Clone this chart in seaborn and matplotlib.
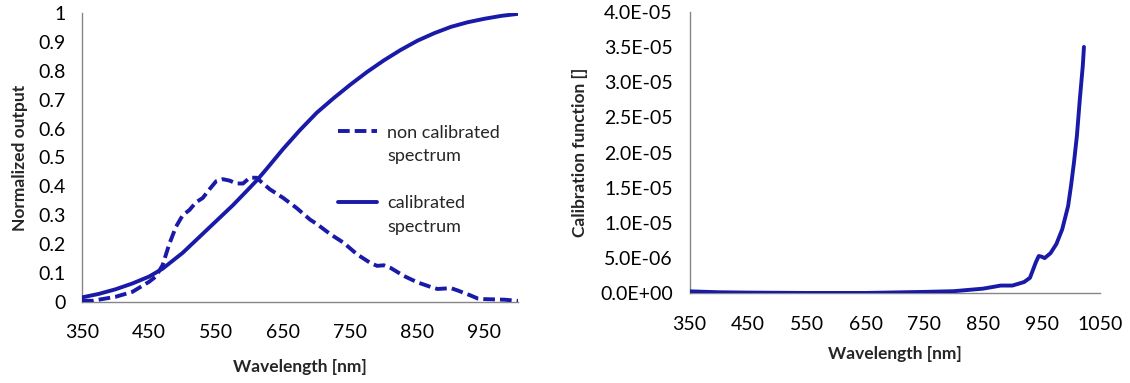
import matplotlib
matplotlib.use("Agg")
import matplotlib.pyplot as plt
from matplotlib.lines import Line2D
from matplotlib.ticker import FuncFormatter, MultipleLocator
import seaborn as sns
import pandas as pd

# ---- data ----
wl_cal = [350, 375, 400, 425, 450, 470, 500, 525, 550, 575, 600, 611, 625, 650, 675, 700,
          725, 750, 775, 800, 825, 850, 875, 900, 925, 950, 975, 1000]
calibrated = [0.016, 0.028, 0.044, 0.064, 0.088, 0.115, 0.17, 0.225, 0.28, 0.335, 0.395,
              0.422, 0.46, 0.53, 0.595, 0.655, 0.705, 0.752, 0.796, 0.836, 0.872, 0.904,
              0.93, 0.952, 0.968, 0.98, 0.99, 0.997]

wl_raw = [350, 365, 380, 400, 425, 450, 460, 470, 480, 490, 500, 510, 520, 530, 540,
          550, 560, 570, 580, 590, 600, 610, 620, 630, 640, 650, 670, 690, 700, 720, 740,
          760, 780, 790, 800, 810, 830, 850, 870, 880, 900, 910, 930, 940, 950, 980, 1000]
non_calibrated = [0.005, 0.004, 0.01, 0.018, 0.035, 0.07, 0.088, 0.127, 0.20, 0.26,
                  0.30, 0.318, 0.345, 0.36, 0.39, 0.418, 0.425, 0.42, 0.41, 0.41, 0.43,
                  0.43, 0.41, 0.39, 0.375, 0.36, 0.325, 0.285, 0.27, 0.235, 0.205, 0.165,
                  0.135, 0.125, 0.127, 0.118, 0.09, 0.068, 0.052, 0.045, 0.048, 0.04,
                  0.022, 0.012, 0.01, 0.008, 0.004]

wl_fn = [350, 400, 450, 550, 650, 750, 800, 850, 870, 880, 900, 920, 930, 940, 945, 950,
         955, 965, 975, 985, 995, 1000, 1005, 1010, 1015, 1020, 1022]
cal_function = [2.8e-7, 1.5e-7, 1.0e-7, 0.5e-7, 0.5e-7, 2.0e-7, 3.0e-7, 6.6e-7, 9.5e-7,
                1.1e-6, 1.1e-6, 1.6e-6, 2.2e-6, 4.4e-6, 5.3e-6, 5.2e-6, 5.0e-6, 5.7e-6,
                7.0e-6, 9.1e-6, 1.24e-5, 1.53e-5, 1.86e-5, 2.24e-5, 2.76e-5, 3.23e-5, 3.5e-5]

x_ticks = [350, 450, 550, 650, 750, 850, 950]
x_ticks_r = [350, 450, 550, 650, 750, 850, 950, 1050]

# ---- style ----
sns.set_style("white")
plt.rcParams['font.family'] = ['Lato', 'DejaVu Sans']
COLOR = "#1a1aa8"
SPINE = "#868686"
LW = 2.8
DASH = (0, (3, 1.3))

fig = plt.figure(figsize=(11.3, 3.83), dpi=100)
ax1 = fig.add_axes([0.0726, 0.2115, 0.3858, 0.7546])
ax2 = fig.add_axes([0.6102, 0.2342, 0.3636, 0.7352])

df_raw = pd.DataFrame({"wl": wl_raw, "v": non_calibrated})
df_cal = pd.DataFrame({"wl": wl_cal, "v": calibrated})
df_fn = pd.DataFrame({"wl": wl_fn, "v": cal_function})

sns.lineplot(data=df_raw, x="wl", y="v", ax=ax1, color=COLOR, lw=LW, linestyle=DASH)
sns.lineplot(data=df_cal, x="wl", y="v", ax=ax1, color=COLOR, lw=LW)
sns.lineplot(data=df_fn, x="wl", y="v", ax=ax2, color=COLOR, lw=LW)

for ax in (ax1, ax2):
    for s in ("top", "right"):
        ax.spines[s].set_visible(False)
    for s in ("left", "bottom"):
        ax.spines[s].set_color(SPINE)
        ax.spines[s].set_linewidth(1.0)
        ax.spines[s].set_zorder(0)
    ax.tick_params(axis="both", which="both", direction="out", length=5, width=1,
                   color=SPINE, labelsize=14, labelcolor="#000000")
    ax.tick_params(axis="x", pad=11)
    ax.tick_params(axis="y", pad=7)
    ax.set_xlabel("Wavelength [nm]", fontsize=12.5, fontweight="bold", labelpad=13)

ax1.set_xlim(350, 1000)
ax1.set_ylim(0, 1)
ax1.set_xticks(x_ticks)
ax1.yaxis.set_major_locator(MultipleLocator(0.1))
ax1.yaxis.set_major_formatter(FuncFormatter(lambda v, _: f"{round(v, 1):g}"))
ax1.set_ylabel("Normalized output", fontsize=12.5, fontweight="bold", labelpad=7)

ax2.set_xlim(350, 1050)
ax2.set_ylim(0, 4e-5)
ax2.set_xticks(x_ticks_r)
ax2.yaxis.set_major_locator(MultipleLocator(5e-6))
ax2.yaxis.set_major_formatter(FuncFormatter(lambda v, _: f"{v:.1E}"))
ax2.set_ylabel("Calibration function []", fontsize=12.5, fontweight="bold", labelpad=9)
ax2.xaxis.labelpad = 10

handles = [
    Line2D([], [], color=COLOR, lw=LW, linestyle=DASH),
    Line2D([], [], color="none"),
    Line2D([], [], color="none"),
    Line2D([], [], color=COLOR, lw=LW),
    Line2D([], [], color="none"),
]
labels = ["non calibrated", "spectrum", "spectrum", "calibrated", "spectrum"]
leg = ax1.legend(handles, labels, loc="upper left", bbox_to_anchor=(0.588, 0.614),
                 frameon=False, fontsize=13, handlelength=2.15, handletextpad=0.55,
                 labelspacing=0.42, borderpad=0, borderaxespad=0)
leg.get_texts()[2].set_alpha(0.0)  # spacer row between the two entries

fig.savefig("out.png", dpi=100)
